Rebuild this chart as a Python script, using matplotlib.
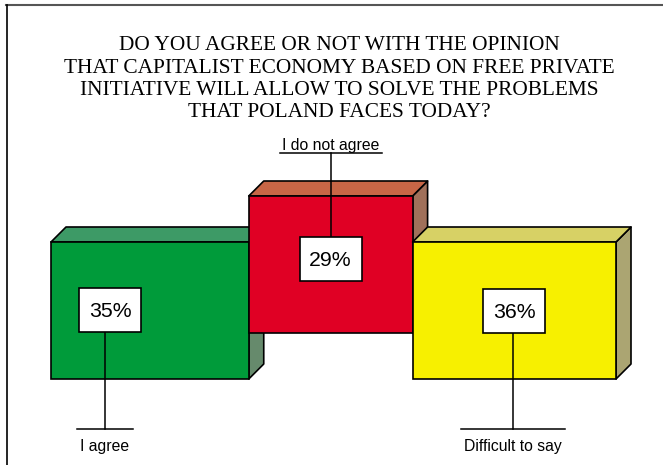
import matplotlib
matplotlib.use('Agg')
from matplotlib import pyplot as plt
from matplotlib.patches import Rectangle, Polygon
from matplotlib.lines import Line2D

# survey answers, bar widths are proportional to the share
categories = ['I agree', 'I do not agree', 'Difficult to say']
values = [35, 29, 36]
value_labels = ['35%', '29%', '36%']

title_lines = ['DO YOU AGREE OR NOT WITH THE OPINION',
               'THAT CAPITALIST ECONOMY BASED ON FREE PRIVATE',
               'INITIATIVE WILL ALLOW TO SOLVE THE PROBLEMS',
               'THAT POLAND FACES TODAY?']

front_colors = ['#009b3a', '#e00024', '#f7f000']
top_colors = ['#3d9a66', '#c86646', '#d7d165']
side_colors = ['#668a6c', '#a0705a', '#aba572']

W, H = 663, 465
fig = plt.figure(figsize=(W / 100, H / 100), dpi=100)
ax = fig.add_axes([0, 0, 1, 1])

# x in percent, y in pixels from the top
px = 5.65          # pixels per percent
x0 = 51
ax.set_xlim(-x0 / px, (W - x0) / px)
ax.set_ylim(H, 0)
ax.axis('off')

base = 379
box_h = 137
lift = [0, 46, 0]
depth = 15
dx = depth / px

left = 0
lefts = []
for i, v in enumerate(values):
    bot = base - lift[i]
    top = bot - box_h
    right = left + v
    lefts.append(left)
    ax.add_patch(Polygon([(right, top), (right + dx, top - depth),
                          (right + dx, bot - depth), (right, bot)],
                         closed=True, fc=side_colors[i], ec='black',
                         lw=1.2, joinstyle='round', zorder=2 + i * 3))
    ax.add_patch(Polygon([(left, top), (left + dx, top - depth),
                          (right + dx, top - depth), (right, top)],
                         closed=True, fc=top_colors[i], ec='black',
                         lw=1.2, joinstyle='round', zorder=2 + i * 3))
    ax.add_patch(Rectangle((left, top), v, box_h, fc=front_colors[i],
                           ec='black', lw=1.2, zorder=3 + i * 3))
    left = right

# value boxes and leader lines (pixel positions)
lab_x = [(110 - x0) / px, lefts[1] + values[1] / 2, lefts[2] + values[2] / 2]
lab_y = [310, 259, 311]
lead_x = [(105 - x0) / px, lab_x[1], lab_x[2] - 0.3]
bw, bh = 62 / px, 44

for i in range(3):
    lx, ly = lab_x[i], lab_y[i]
    if i == 1:
        ax.plot([lead_x[i], lead_x[i]], [ly - bh / 2, 153], color='black',
                lw=1.1, zorder=20)
        ax.plot([lead_x[i] - 51 / px, lead_x[i] + 51 / px], [153, 153],
                color='black', lw=1.1, zorder=20)
        ax.text(lead_x[i], 145, categories[i], ha='center', va='center',
                fontsize=11.3, family='Liberation Sans', zorder=21)
    else:
        hl = 28 if i == 0 else 52
        ax.plot([lead_x[i], lead_x[i]], [ly + bh / 2, 429], color='black',
                lw=1.1, zorder=20)
        ax.plot([lead_x[i] - hl / px, lead_x[i] + hl / px], [429, 429],
                color='black', lw=1.1, zorder=20)
        ax.text(lead_x[i], 446, categories[i], ha='center', va='center',
                fontsize=11.3, family='Liberation Sans', zorder=21)
    ax.add_patch(Rectangle((lx - bw / 2, ly - bh / 2), bw, bh, fc='white',
                           ec='black', lw=1.2, zorder=22))
    ax.text(lx, ly + 1, value_labels[i], ha='center', va='center',
            fontsize=15.3, family='Liberation Sans', zorder=23)

# title
for k, line in enumerate(title_lines):
    fig.text(339 / W, 1 - (46 + k * 22.3) / H, line, ha='center',
             va='center', fontsize=15.4, family='Liberation Serif')

# frame on the top and left
fig.add_artist(Line2D([6 / W, 1], [1 - 5 / H, 1 - 5 / H], color='#555555',
                      lw=1.5))
fig.add_artist(Line2D([6.5 / W, 6.5 / W], [0, 1 - 5 / H], color='black',
                      lw=1.2))

fig.savefig('out.png', dpi=100)
